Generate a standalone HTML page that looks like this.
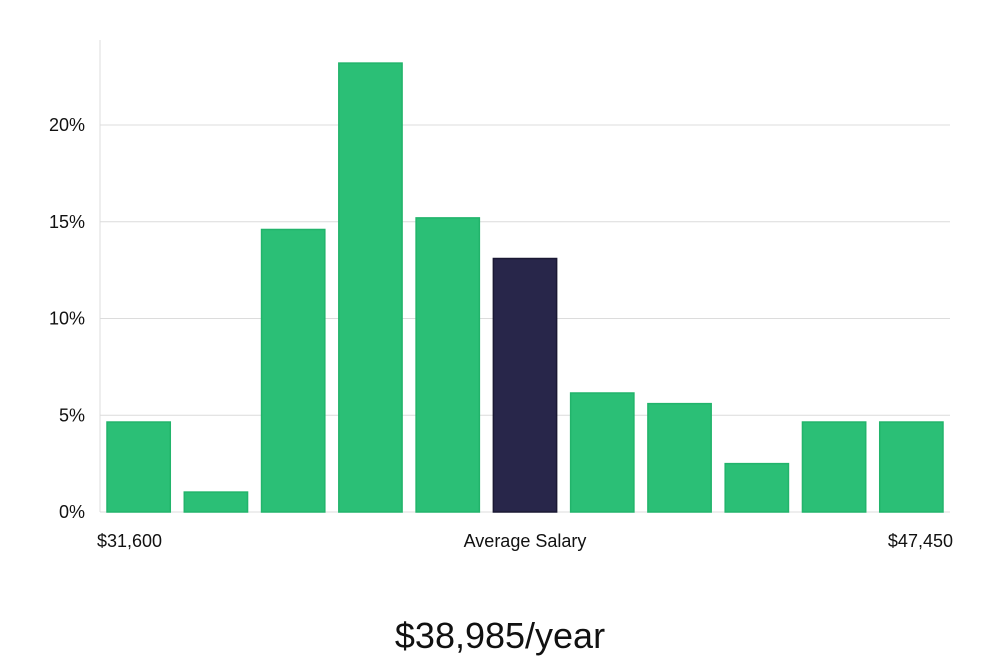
<!DOCTYPE html>
<html><head><meta charset="utf-8"><style>
html,body{margin:0;padding:0;background:#fff;}
svg{display:block;font-family:"Liberation Sans","DejaVu Sans",sans-serif;}
</style></head><body>
<svg id="chart" width="1000" height="660"></svg>
<script>
const categories = ["b1","b2","b3","b4","b5","b6","b7","b8","b9","b10","b11"];
const values = [4.65,1.03,14.6,23.2,15.2,13.1,6.15,5.6,2.5,4.65,4.65];
const highlightIndex = 5;
const yTicks = [0,5,10,15,20];
const yTickLabels = ["0%","5%","10%","15%","20%"];

const NS="http://www.w3.org/2000/svg";
const svg=document.getElementById('chart');
const L=100,R=950,B=512,pxPerUnit=19.35;
const y=v=>B-v*pxPerUnit;
const band=(R-L)/categories.length;
const x=i=>L+i*band+7;
const bw=band-14;
function mk(t,a){const e=document.createElementNS(NS,t);for(const k in a)e.setAttribute(k,a[k]);svg.appendChild(e);return e;}

yTicks.forEach((t,i)=>{
  if(t>0){const g=mk('line',{x1:L,x2:R,y1:y(t),y2:y(t),stroke:'#dcdcdc','stroke-width':1});
  
  }
  const lb=mk('text',{x:85,y:y(t)+6,'text-anchor':'end','font-size':18,fill:'#111'});
  lb.textContent=yTickLabels[i];
  
  
});
const ax=mk('line',{x1:L,x2:L,y1:40,y2:B,stroke:'#dcdcdc','stroke-width':1});


const bx=mk('line',{x1:L,x2:R,y1:B,y2:B,stroke:'#dcdcdc','stroke-width':1});



values.forEach((v,i)=>{
  const hi=i===highlightIndex;
  const r=mk('rect',{x:x(i),y:y(v),width:bw,height:B-y(v),fill:hi?'#28264a':'#2bbf76',stroke:hi?'#1a1833':'#22b46b','stroke-width':1.5});
  
  
});

function txt(s,xx,yy,anchor,size,name,fill){const t=mk('text',{x:xx,y:yy,'text-anchor':anchor,'font-size':size,fill:fill||'#111'});t.textContent=s;

return t;}
txt('$31,600',97,547,'start',18,'x-min-label');
txt('Average Salary',525,547,'middle',18,'x-average-label');
txt('$47,450',953,547,'end',18,'x-max-label');
txt('$38,985/year',500,648,'middle',36,'salary-title','#111');
</script>
</body></html>
